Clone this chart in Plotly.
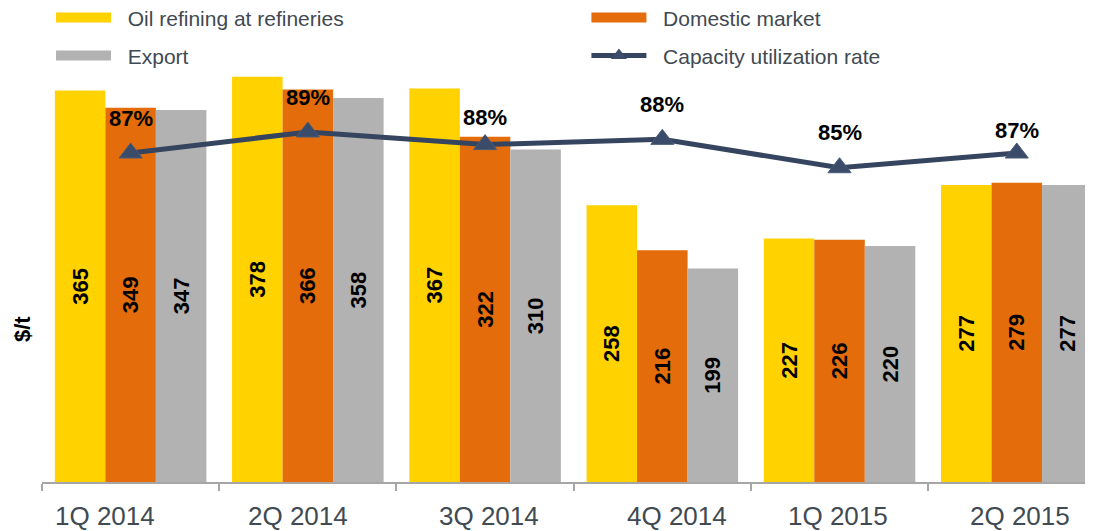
import plotly.graph_objects as go

categories = ["1Q 2014", "2Q 2014", "3Q 2014", "4Q 2014", "1Q 2015", "2Q 2015"]
refining = [365, 378, 367, 258, 227, 277]
domestic = [349, 366, 322, 216, 226, 279]
export = [347, 358, 310, 199, 220, 277]
utilization = [87.0, 89.0, 87.8, 88.3, 85.6, 87.0]
utilization_labels = ["87%", "89%", "88%", "88%", "85%", "87%"]

YELLOW = "#FFD200"
ORANGE = "#E46C0A"
GREY = "#B2B2B2"
NAVY = "#36455F"
TEXT = "#3F4A52"

fig = go.Figure()

bar_font = dict(family="Liberation Sans, Arial", size=22, color="black")
for name, vals, col in [("Oil refining at refineries", refining, YELLOW),
                        ("Domestic market", domestic, ORANGE),
                        ("Export", export, GREY)]:
    fig.add_trace(go.Bar(
        x=categories, y=vals, name=name, marker=dict(color=col, line=dict(width=0)),
        text=[f"<b>{v}</b>" for v in vals], textposition="inside",
        insidetextanchor="middle", textangle=-90, textfont=bar_font,
        showlegend=False, cliponaxis=True,
    ))

fig.add_trace(go.Scatter(
    x=categories, y=utilization, yaxis="y2", mode="lines+markers",
    line=dict(color=NAVY, width=5),
    marker=dict(symbol="triangle-up", size=20, color="#3B4C6B",
                line=dict(color="#4A5A78", width=1)),
    name="Capacity utilization rate", showlegend=False,
))

# legend entries
legend_specs = [
    ("legend", "Oil refining at refineries", YELLOW, False),
    ("legend2", "Domestic market", ORANGE, False),
    ("legend3", "Export", GREY, False),
    ("legend4", "Capacity utilization rate", NAVY, True),
]
for lg, name, col, is_line in legend_specs:
    label = "&nbsp;&nbsp;" + name
    if is_line:
        fig.add_trace(go.Scatter(
            x=[None], y=[None], mode="lines+markers", name=label, legend=lg,
            line=dict(color=col, width=5),
            marker=dict(symbol="triangle-up", size=14, color="#3B4C6B"),
        ))
    else:
        fig.add_trace(go.Scatter(
            x=[None], y=[None], mode="lines", name=label, legend=lg,
            line=dict(color=col, width=11),
        ))

annotations = []
yshifts = [35, 35, 27, 35, 35, 23]
for c, v, lab, ys in zip(categories, utilization, utilization_labels, yshifts):
    annotations.append(dict(
        x=c, y=v, xref="x", yref="y2", text=f"<b>{lab}</b>", showarrow=False,
        yshift=ys, font=dict(family="Liberation Sans, Arial", size=22, color="black"),
    ))

# category labels (placed individually as in the reference)
label_xshifts = [-26, -10, 4, 15, -2, 3]
for c, xs in zip(categories, label_xshifts):
    annotations.append(dict(
        x=c, y=0, xref="x", yref="paper", text=c, showarrow=False,
        xanchor="center", yanchor="middle", xshift=xs, yshift=-34,
        font=dict(family="Liberation Sans, Arial", size=26, color=TEXT),
    ))

annotations.append(dict(
    x=-0.018, y=0.323, xref="paper", yref="paper", text="<b>$/t</b>", textangle=-90,
    xanchor="center", yanchor="middle",
    showarrow=False, font=dict(family="Liberation Sans, Arial", size=22, color="black"),
))

leg_font = dict(family="Liberation Sans, Arial", size=21, color=TEXT)
def legend_cfg(x, y):
    return dict(x=x, y=y, xanchor="left", yanchor="middle", xref="paper", yref="paper",
                bgcolor="rgba(0,0,0,0)", font=leg_font, itemwidth=55,
                traceorder="normal")

fig.update_layout(
    width=1085, height=523,
    margin=dict(l=34, r=0, t=0, b=49, autoexpand=False),
    paper_bgcolor="white", plot_bgcolor="white",
    barmode="group", bargap=0.145, bargroupgap=0,
    xaxis=dict(type="category", range=[-0.5, 5.43], showgrid=False,
               showline=True, linecolor="#A6A6A6", linewidth=2,
               ticks="outside", tickson="boundaries", ticklen=7, tickcolor="#A6A6A6",
               tickwidth=2, showticklabels=False, automargin=False),
    yaxis=dict(range=[0, 442], visible=False, showgrid=False, automargin=False),
    yaxis2=dict(range=[55.67, 100.81], overlaying="y", visible=False, showgrid=False),
    legend=legend_cfg(0.0086, 0.979),
    legend2=legend_cfg(0.518, 0.979),
    legend3=legend_cfg(0.0086, 0.899),
    legend4=legend_cfg(0.518, 0.899),
    annotations=annotations,
    showlegend=True,
)

fig.write_html("out.html")
